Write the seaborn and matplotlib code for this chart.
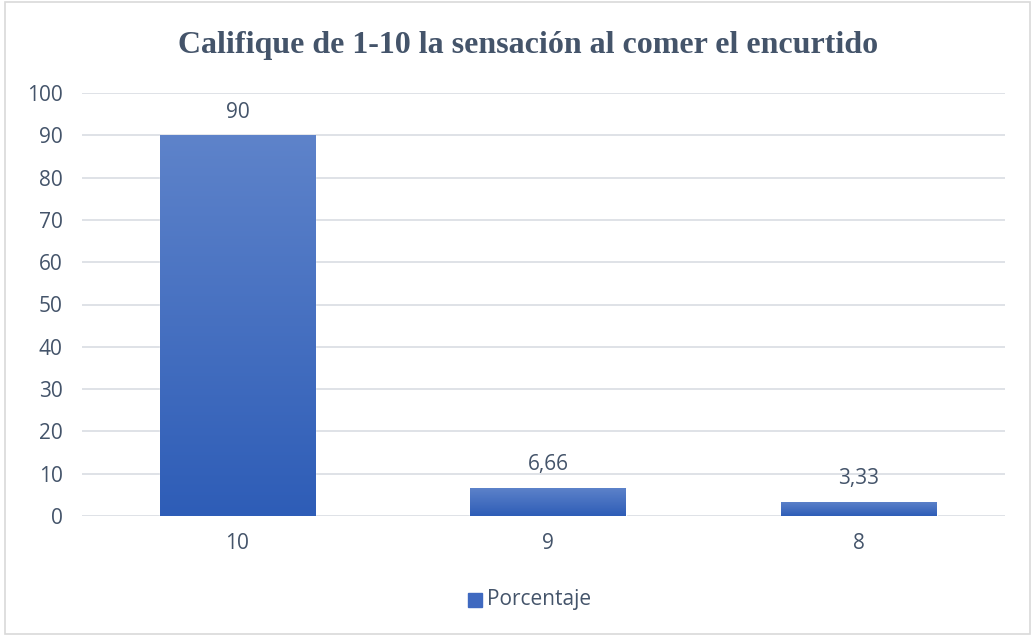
import numpy as np
import pandas as pd
import seaborn as sns
import matplotlib.pyplot as plt
from matplotlib.patches import Rectangle
from matplotlib.colors import LinearSegmentedColormap

categorias = ['10', '9', '8']
porcentaje = [90, 6.66, 3.33]
etiquetas = ['90', '6,66', '3,33']

sns.set_style('white')
plt.rcParams['font.family'] = ['Open Sans', 'DejaVu Sans']
texto = '#44546A'

fig = plt.figure(figsize=(10.35, 6.36), dpi=100)
ax = fig.add_axes([82 / 1035, 1 - 516 / 636, 923 / 1035, 423 / 636])

df = pd.DataFrame({'Calificación': categorias, 'Porcentaje': porcentaje})
sns.barplot(data=df, x='Calificación', y='Porcentaje', color='#4472C4',
            width=0.5, ax=ax, saturation=1)

# gradient fill inside each bar
cmap = LinearSegmentedColormap.from_list('g', ['#2E5DB7', '#5E83CA'])
grad = np.linspace(0, 1, 256).reshape(-1, 1)
for p in ax.patches:
    x0, y0 = p.get_x(), p.get_y()
    w, h = p.get_width(), p.get_height()
    im = ax.imshow(grad, cmap=cmap, aspect='auto', origin='lower',
                   extent=[x0, x0 + w, y0, y0 + h], zorder=3)
    im.set_clip_path(p)
    p.set_zorder(2)

ax.set_xlim(-0.5, 2.47)
ax.set_ylim(0, 100)
ax.set_yticks(range(0, 101, 10))
ax.yaxis.grid(True, color='#D9DDE3', linewidth=1.2)
ax.set_axisbelow(True)
for s in ax.spines.values():
    s.set_visible(False)
ax.tick_params(axis='both', length=0, labelsize=15, colors=texto)
ax.tick_params(axis='x', pad=12)
ax.tick_params(axis='y', pad=14)
ax.set_xlabel('')
ax.set_ylabel('')

for i, (v, t) in enumerate(zip(porcentaje, etiquetas)):
    ax.text(i, v + 3.0, t, ha='center', va='bottom', fontsize=15, color=texto)

fig.text(0.51, 1 - 45 / 636, 'Califique de 1-10 la sensación al comer el encurtido',
         ha='center', va='center', fontsize=23, fontweight='bold',
         family='Liberation Serif', color=texto)

# legend
fig.patches.append(Rectangle((468 / 1035, 1 - 607 / 636), 14 / 1035, 14 / 636,
                             transform=fig.transFigure, color='#3F69C0'))
fig.text(487 / 1035, 1 - 600 / 636, 'Porcentaje', ha='left', va='center',
         fontsize=15, color=texto)

# outer border
fig.patches.append(Rectangle((5 / 1035, 2 / 636), 1025 / 1035, 632 / 636,
                             transform=fig.transFigure, fill=False,
                             edgecolor='#D9D9D9', linewidth=1.2))

fig.savefig('out.png', dpi=100)
